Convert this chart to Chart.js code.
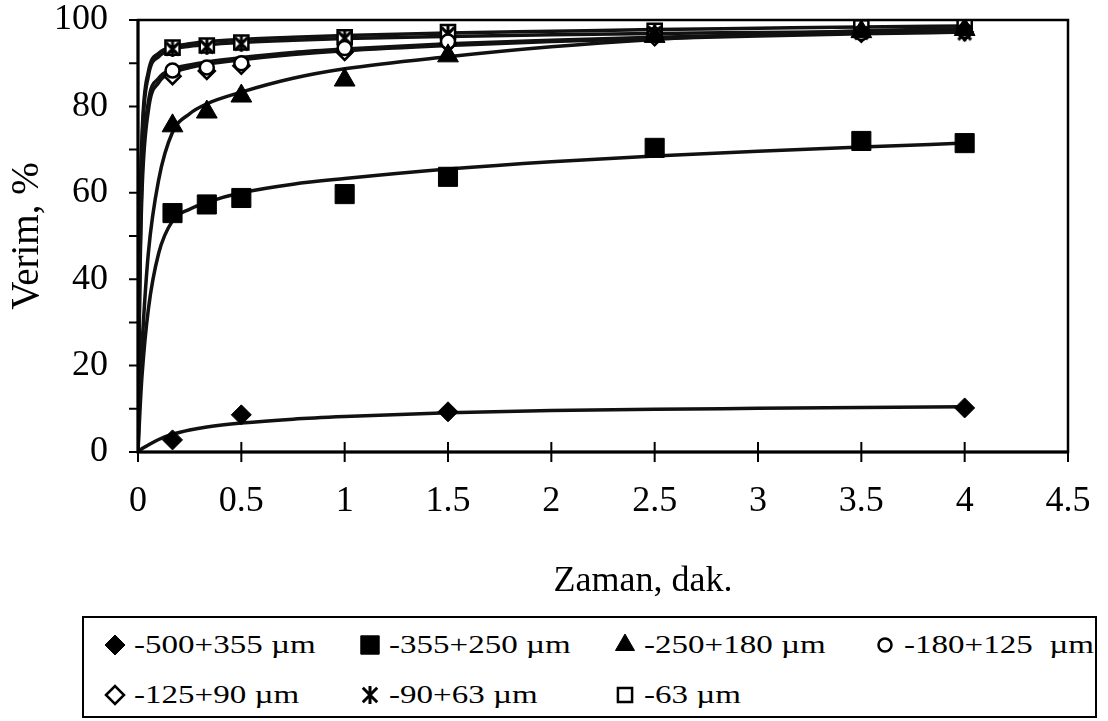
<!DOCTYPE html>
<html>
<head>
<meta charset="utf-8">
<script src="https://cdn.jsdelivr.net/npm/chart.js@4.4.1/dist/chart.umd.min.js"></script>
<style>
html,body{margin:0;padding:0;background:#fff;overflow:hidden;}
#wrap{position:relative;width:1108px;height:721px;}
#chart{position:absolute;left:0;top:0;width:1108px;height:721px;}
#legend{position:absolute;left:82px;top:616px;width:1015px;height:102px;box-sizing:border-box;border:2px solid #000;background:#fff;}
.item{position:absolute;height:32px;display:flex;align-items:center;white-space:pre;}
.item canvas{width:26px;height:26px;flex:none;}
.item span{display:inline-block;font-family:"Liberation Serif","Times New Roman",serif;font-size:26px;color:#000;transform:scaleX(1.27);transform-origin:left center;margin-left:6px;line-height:32px;}
</style>
</head>
<body>
<div id="wrap"><canvas id="chart" width="1108" height="721"></canvas><div id="legend"></div></div>
<script>
// ---------- data ----------
const timeMin = [0.167, 0.333, 0.5, 1, 1.5, 2.5, 3.5, 4];
const seriesLabels = ['-500+355 µm', '-355+250 µm', '-250+180 µm', '-180+125  µm', '-125+90 µm', '-90+63 µm', '-63 µm'];
const yield500 = [2.8, null, 8.6, null, 9.3, null, null, 10.2];
const yield355 = [55.3, 57.3, 58.8, 59.7, 63.7, 70.4, 72.0, 71.5];
const yield250 = [75.5, 78.7, 82.4, 86.1, 91.7, 96.2, 97.3, 97.8];
const yield180 = [88.3, 89.0, 90.0, 93.5, 95.0, 96.5, 97.0, 97.5];
const yield125 = [87.0, 88.2, 89.4, 92.6, 94.5, 96.0, 96.8, 97.2];
const yield90 = [93.3, 93.8, 94.5, 95.8, 96.8, 97.0, 97.0, 96.9];
const yield63 = [93.6, 94.1, 94.8, 96.0, 97.2, 97.5, 98.3, 98.6];

// trend curves
const fitTime = [0, 0.005, 0.01, 0.02, 0.05, 0.1, 0.167, 0.25, 0.333, 0.5, 0.75, 1, 1.5, 2, 2.5, 3, 3.5, 4];
const fit500 = [0, 0.2, 0.4, 0.8, 1.6, 2.9, 4.1, 5.1, 5.8, 6.7, 7.6, 8.2, 9.1, 9.6, 9.9, 10.1, 10.3, 10.5];
const fit355 = [0, 5, 10, 18, 33, 46, 53.5, 56.2, 57.8, 60, 62, 63.3, 65.5, 67.2, 68.5, 69.6, 70.6, 71.5];
const fit250 = [0, 8, 15, 25, 46, 63, 74, 78.3, 80.6, 83.3, 86.5, 88.7, 91.5, 93.8, 95.5, 96.7, 97.5, 98.0];
const fit180 = [0, 28, 45, 64, 81, 86.5, 88.6, 89.6, 90.3, 91.3, 92.5, 93.3, 94.5, 95.3, 96.0, 96.5, 97.0, 97.3];
const fit125 = [0, 25, 42, 61, 79, 85.5, 87.8, 89.0, 89.8, 90.8, 92.0, 92.9, 94.1, 95.0, 95.7, 96.3, 96.8, 97.2];
const fit90 = [0, 32, 52, 72, 87, 91.5, 93.2, 93.9, 94.3, 94.8, 95.3, 95.7, 96.2, 96.6, 96.9, 97.1, 97.3, 97.5];
const fit63 = [0, 34, 55, 74, 88, 92.3, 93.8, 94.5, 95.0, 95.5, 96.0, 96.4, 97.0, 97.4, 97.8, 98.1, 98.4, 98.6];

const xTickValues = [0, 0.5, 1, 1.5, 2, 2.5, 3, 3.5, 4, 4.5];
const yLabelValues = [0, 20, 40, 60, 80, 100];
const xTitle = 'Zaman, dak.';
const yTitle = 'Verim, %';

// ---------- styling ----------
const FONT = '"Liberation Serif", "Times New Roman", serif';

// asterisk-like marker (X with a vertical bar), as in the original
function makeStar(size, lw) {
  const cv = document.createElement('canvas');
  cv.width = size; cv.height = size;
  const c = cv.getContext('2d');
  c.strokeStyle = '#000'; c.lineWidth = lw; c.lineCap = 'butt';
  const m = size / 2, r = size / 2 - 2;
  const d = r * 0.8;
  c.beginPath();
  c.moveTo(m - d, m - d); c.lineTo(m + d, m + d);
  c.moveTo(m + d, m - d); c.lineTo(m - d, m + d);
  c.moveTo(m, m - r); c.lineTo(m, m + r);
  c.stroke();
  return cv;
}
const starImg = makeStar(20, 3);
const starLegendImg = makeStar(22, 3);

const pointYields = [yield500, yield355, yield250, yield180, yield125, yield90, yield63];
const fitYields = [fit500, fit355, fit250, fit180, fit125, fit90, fit63];
const markers = [
  {style: 'rectRot', r: 10, fill: '#000', bw: 1, lr: 10},
  {style: 'rect', r: 13.5, fill: '#000', bw: 1, lr: 13},
  {style: 'triangle', r: 12, fill: '#000', bw: 1, lr: 11},
  {style: 'circle', r: 7, fill: '#fff', bw: 2.5, lr: 6.5},
  {style: 'rectRot', r: 8, fill: '#fff', bw: 2.5, lr: 9},
  {style: starImg, r: 9, fill: '#fff', bw: 3, lr: 9, legendImg: starLegendImg},
  {style: 'rect', r: 10, fill: '#fff', bw: 2.5, lr: 10}
];

const datasets = [];
seriesLabels.forEach((lab, i) => {
  datasets.push({
    label: lab + ' fit',
    data: fitTime.map((t, j) => ({x: t, y: fitYields[i][j]})),
    showLine: true, pointRadius: 0, borderColor: '#111', borderWidth: 3.5,
    cubicInterpolationMode: 'monotone', fill: false, order: 2
  });
});
seriesLabels.forEach((lab, i) => {
  const m = markers[i];
  datasets.push({
    label: lab,
    data: timeMin.map((t, j) => ({x: t, y: pointYields[i][j]})).filter(p => p.y !== null),
    showLine: false, pointStyle: m.style, pointRadius: m.r, pointBorderWidth: m.bw,
    pointBackgroundColor: m.fill, pointBorderColor: '#000', order: 1
  });
});

const framePlugin = {
  id: 'frame',
  afterDraw(chart) {
    const {ctx, chartArea: a, scales: {x, y}} = chart;
    ctx.save();
    ctx.strokeStyle = '#000';
    ctx.lineWidth = 2.5;
    ctx.strokeRect(a.left, a.top, a.right - a.left, a.bottom - a.top);
    ctx.lineWidth = 3;
    ctx.beginPath();
    ctx.moveTo(a.left, a.top); ctx.lineTo(a.left, a.bottom); ctx.lineTo(a.right, a.bottom);
    ctx.stroke();
    ctx.lineWidth = 2;
    ctx.beginPath();
    x.ticks.forEach(t => { const px = x.getPixelForValue(t.value); ctx.moveTo(px, a.bottom - 10); ctx.lineTo(px, a.bottom + 10); });
    y.ticks.forEach(t => { const py = y.getPixelForValue(t.value); ctx.moveTo(a.left - 9, py); ctx.lineTo(a.left, py); });
    ctx.stroke();
    ctx.fillStyle = '#000';
    ctx.font = '36px ' + FONT;
    ctx.textAlign = 'center';
    ctx.textBaseline = 'middle';
    ctx.fillText(xTitle, 643, 582);
    ctx.restore();
  }
};

new Chart(document.getElementById('chart'), {
  type: 'scatter',
  data: {datasets},
  options: {
    responsive: false, animation: false, devicePixelRatio: 1,
    layout: {padding: {left: 0, right: 40, top: 20, bottom: 0}},
    plugins: {legend: {display: false}, tooltip: {enabled: false}},
    scales: {
      x: {
        type: 'linear', min: xTickValues[0], max: xTickValues[xTickValues.length - 1],
        afterBuildTicks(s) { s.ticks = xTickValues.map(v => ({value: v})); },
        ticks: {callback: v => String(v), font: {family: FONT, size: 36}, color: '#000', padding: 28, maxRotation: 0, autoSkip: false},
        grid: {display: false, drawTicks: false}, border: {display: false},
        afterFit(s) { s.height = 721 - 452; s.paddingLeft = 0; s.paddingRight = 0; }
      },
      y: {
        min: 0, max: 100,
        ticks: {stepSize: 10, callback: v => yLabelValues.includes(v) ? String(v) : '', font: {family: FONT, size: 36}, color: '#000', padding: 30, autoSkip: false},
        grid: {display: false, drawTicks: false}, border: {display: false},
        title: {display: true, text: yTitle, font: {family: FONT, size: 39}, color: '#000', padding: {top: 4, bottom: 0}},
        afterFit(s) { s.width = 138; s.paddingTop = 0; s.paddingBottom = 0; }
      }
    }
  },
  plugins: [framePlugin]
});

// ---------- legend (HTML) ----------
const legendCols = [102, 357, 612, 872];
const legendRows = [645, 695];
const legendBox = document.getElementById('legend');
seriesLabels.forEach((lab, i) => {
  const col = i % 4, row = Math.floor(i / 4);
  const item = document.createElement('div');
  item.className = 'item';
  item.style.left = (legendCols[col] - 82 - 2) + 'px';
  item.style.top = (legendRows[row] - 616 - 2 - 16) + 'px';
  const cv = document.createElement('canvas');
  cv.width = 26; cv.height = 26;
  const c = cv.getContext('2d');
  const m = markers[i];
  c.fillStyle = m.fill; c.strokeStyle = '#000';
  c.lineWidth = m.bw;
  if (m.legendImg) {
    c.drawImage(m.legendImg, 2, 2);
  } else {
    try {
      Chart.helpers.drawPoint(c, {pointStyle: m.style, radius: m.lr, borderWidth: m.bw, rotation: 0}, 13, 13);
    } catch (e) {}
  }
  const sp = document.createElement('span');
  sp.textContent = lab;
  item.appendChild(cv); item.appendChild(sp);
  legendBox.appendChild(item);
});
</script>
</body>
</html>
